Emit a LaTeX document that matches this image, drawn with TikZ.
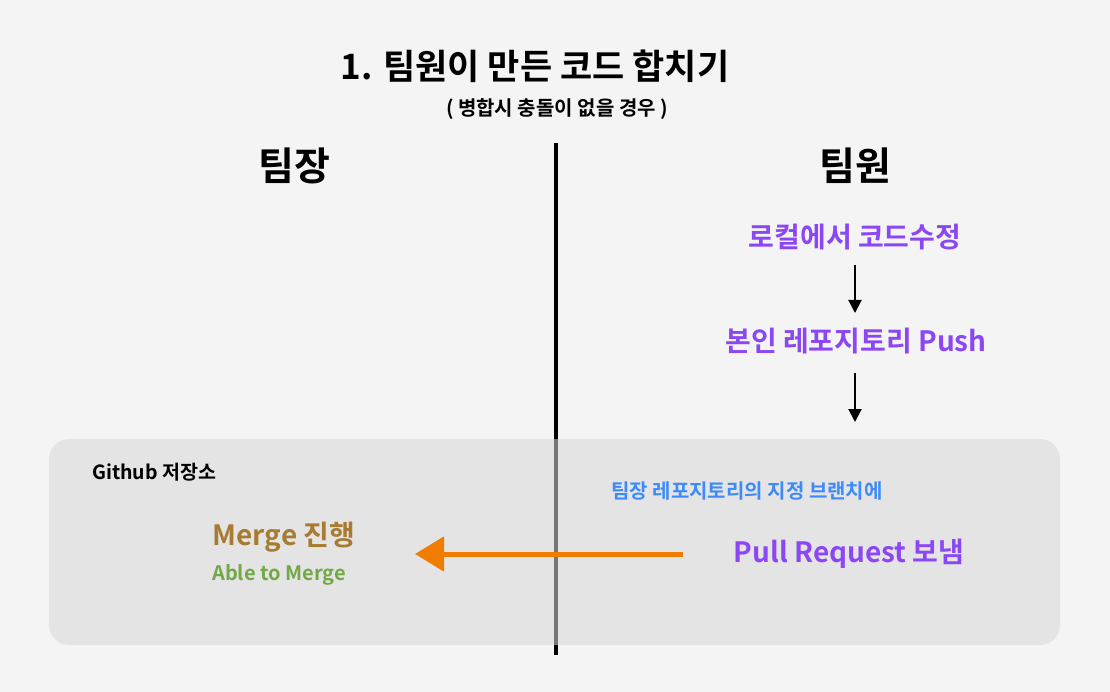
\documentclass[tikz,border=0pt]{standalone}
\usepackage{fontspec}
\setmainfont{Noto Sans CJK KR}[BoldFont={* Bold}]
\usetikzlibrary{arrows.meta}
\definecolor{bgc}{HTML}{F4F4F4}
\definecolor{boxc}{HTML}{D8D8D8}
\definecolor{purp}{HTML}{8C47F5}
\definecolor{bluec}{HTML}{3D8BFA}
\definecolor{brownc}{HTML}{A87B32}
\definecolor{greenc}{HTML}{72A846}
\definecolor{orangec}{HTML}{F07D00}
\tikzset{
  txt/.style={inner sep=0pt, font=\bfseries},
  step1/.style={txt, text=purp, font=\bfseries\fontsize{28}{32}\selectfont},
  flow/.style={draw=black, line width=2pt, -{Triangle[length=13pt,width=13pt]}},
}
\begin{document}
\begin{tikzpicture}[x=1pt,y=-1pt]
\fill[bgc] (0,0) rectangle (1110,692);
\useasboundingbox (0,0) rectangle (1110,692);
% title
\node[txt, font=\bfseries\fontsize{35}{40}\selectfont] (title) at (535,66) {1. 팀원이 만든 코드 합치기};
\node[txt, font=\bfseries\fontsize{20}{24}\selectfont] (sub) at (557,109) {( 병합시 충돌이 없을 경우 )};
\node[txt, font=\bfseries\fontsize{39}{44}\selectfont] (lead) at (294,166) {팀장};
\node[txt, font=\bfseries\fontsize{39}{44}\selectfont] (member) at (855,166) {팀원};
% divider
\coordinate (dtop) at (556,143);
\coordinate (dbot) at (556,655);
\draw[line width=4pt, black] (dtop) -- (dbot);
% github box
\fill[boxc, fill opacity=0.55, rounded corners=20pt] (49,439) rectangle (1060,645);
\node[txt, anchor=west, font=\bfseries\fontsize{19.5}{22}\selectfont] (gh) at (92,472) {Github 저장소};
% member steps
\node[step1] (s1) at (855,237) {로컬에서 코드수정};
\node[step1] (s2) at (856,341) {본인 레포지토리 Push};
\coordinate (a1s) at (855,265);
\coordinate (a1e) at (855,313);
\coordinate (a2s) at (855,373);
\coordinate (a2e) at (855,422);
\draw[flow] (a1s) -- (a1e);
\draw[flow] (a2s) -- (a2e);
\node[txt, text=bluec, font=\bfseries\fontsize{20}{24}\selectfont] (branch) at (747,491) {팀장 레포지토리의 지정 브랜치에};
\node[step1] (pr) at (849,554) {Pull Request 보냄};
\node[txt, text=brownc, font=\bfseries\fontsize{28}{32}\selectfont] (merge) at (284,537) {Merge 진행};
\node[txt, anchor=west, text=greenc, font=\bfseries\fontsize{20}{24}\selectfont] (able) at (212,575) {Able to Merge};
\coordinate (os) at (683,554);
\coordinate (oe) at (415,554);
\draw[orangec, line width=5pt, -{Triangle[length=29pt,width=34pt]}] (os) -- (oe);
\end{tikzpicture}
\end{document}
